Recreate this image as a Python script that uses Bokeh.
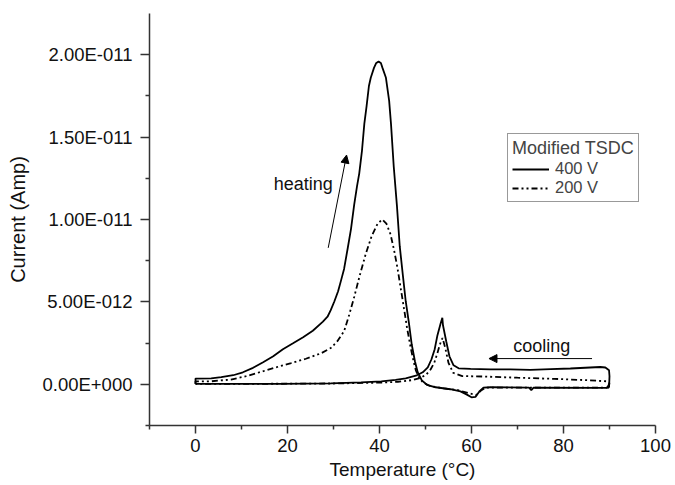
from bokeh.plotting import figure
from bokeh.models import Range1d, FixedTicker, Legend, LegendItem, Arrow, NormalHead, Label
from bokeh.embed import file_html
from bokeh.resources import INLINE

# Current values are in units of 1e-12 A
heat400_T = [0, 0, 3.4, 5.6, 8.2, 10.3, 12.5, 14.7, 16.9, 19.0, 21.2, 23.4, 25.5, 27.7, 28.7,
             29.4, 30.2, 31.0, 31.6, 32.3, 33.1, 33.8, 34.5, 35.1, 35.6, 36.2, 36.7, 37.2, 37.7,
             38.1, 38.8, 39.3, 39.8, 40.3, 40.65, 41.4, 42.1, 42.5, 43.1, 43.8, 44.4, 45.1, 45.7,
             46.4, 47.0, 47.7, 48.3, 49.2, 50.3, 52.2, 55.4, 57.6, 58.9, 60.0, 60.9, 61.7, 62.6,
             64.1, 72.5, 73.0, 73.5, 89.3, 89.9]
heat400_I = [0.03, 0.35, 0.36, 0.43, 0.55, 0.73, 1.0, 1.34, 1.70, 2.13, 2.49, 2.86, 3.25, 3.8, 4.1,
             4.5, 5.04, 5.65, 6.26, 7.0, 8.27, 9.42, 10.9, 12.0, 12.8, 14.2, 15.8, 16.9, 18.1,
             18.6, 19.2, 19.5, 19.58, 19.5, 19.2, 18.6, 17.2, 15.8, 13.2, 10.8, 8.38, 6.56, 5.04,
             3.71, 2.43, 1.40, 0.73, 0.24, -0.03, -0.18, -0.30, -0.43, -0.61, -0.79, -0.76, -0.43, -0.2,
             -0.18, -0.2, -0.35, -0.2, -0.22, -0.2]

cool400_T = [89.9, 90.0, 89.9, 89.1, 88.0, 85.8, 81.5, 77.2, 72.8, 68.4, 64.1, 59.8, 57.2, 56.1,
             55.2, 54.5, 53.8, 53.66, 53.3, 52.6, 52.0, 51.3, 50.5, 49.4, 47.9, 45.7, 43.5, 40.4,
             36.0, 29.4, 18.6, 0]
cool400_I = [-0.2, 0.49, 0.85, 1.02, 1.05, 1.02, 0.96, 0.92, 0.88, 0.91, 0.91, 0.93, 0.97, 1.15,
             1.70, 2.61, 3.58, 4.03, 3.71, 2.98, 2.13, 1.52, 1.03, 0.73, 0.52, 0.36, 0.27, 0.18,
             0.12, 0.06, 0.03, 0.03]

heat200_T = [0, 0, 3.4, 7.7, 11.0, 14.3, 17.5, 20.8, 24.0, 27.3, 29.4, 30.8, 32.3, 33.4, 34.5,
             35.7, 37.0, 38.3, 39.6, 40.6, 41.5, 42.4, 43.2, 43.9, 44.6, 45.3, 46.0, 46.8, 47.4,
             47.9, 48.6, 49.5, 51.0, 54.0, 57.0, 59.5, 61.0, 62.0, 63.0, 65.0, 75.0, 89.5]
heat200_I = [0.02, 0.18, 0.18, 0.29, 0.49, 0.76, 1.03, 1.29, 1.55, 1.88, 2.2, 2.6, 3.22, 4.2, 5.3,
             6.6, 7.9, 9.0, 9.75, 10.0, 9.75, 9.1, 8.1, 7.07, 5.85, 4.64, 3.4, 2.2, 1.4,
             0.85, 0.4, 0.1, -0.1, -0.25, -0.35, -0.55, -0.65, -0.4, -0.2, -0.2, -0.2, -0.2]

cool200_T = [89.5, 90.0, 89.5, 85.0, 78.0, 70.0, 63.0, 58.0, 56.0, 55.0, 54.3, 53.7, 53.1, 52.6,
             51.9, 51.1, 50.2, 49.0, 47.0, 44.0, 40.0, 30.0, 15.0, 0]
cool200_I = [-0.2, 0.05, 0.18, 0.25, 0.33, 0.4, 0.47, 0.5, 0.7, 1.3, 2.2, 2.81, 2.4, 1.9,
             1.3, 0.9, 0.6, 0.4, 0.25, 0.15, 0.1, 0.05, 0.03, 0.02]

y_ticks = [0, 5, 10, 15, 20]
y_tick_labels = ["0.00E+000", "5.00E-012", "1.00E-011", "1.50E-011", "2.00E-011"]
x_ticks = [0, 20, 40, 60, 80, 100]

FONT = "Liberation Sans"
FS = "18px"

p = figure(width=672, height=485, x_range=Range1d(-10, 100), y_range=Range1d(-2.5, 22.5),
           output_backend="svg", toolbar_location=None,
           min_border_left=149, min_border_right=17, min_border_top=13, min_border_bottom=60)
p.xgrid.visible = False
p.ygrid.visible = False
p.outline_line_color = None
p.background_fill_color = "white"

for ax in (p.xaxis[0], p.yaxis[0]):
    ax.axis_line_color = "#333333"
    ax.axis_line_width = 1.5
    ax.major_tick_line_color = "#333333"
    ax.minor_tick_line_color = "#333333"
    ax.major_tick_line_width = 1.5
    ax.minor_tick_line_width = 1.5
    ax.major_tick_in = 0
    ax.minor_tick_in = 0
    ax.major_label_text_font = FONT
    ax.major_label_text_font_size = "18.5px"
    ax.major_label_text_color = "#111111"
    ax.axis_label_text_font = FONT
    ax.axis_label_text_font_style = "normal"
    ax.axis_label_text_color = "#111111"

p.xaxis.ticker = FixedTicker(ticks=x_ticks, minor_ticks=[-10, 10, 30, 50, 70, 90])
p.yaxis.ticker = FixedTicker(ticks=y_ticks, minor_ticks=[-2.5, 2.5, 7.5, 12.5, 17.5])
p.yaxis.major_label_overrides = {t: s for t, s in zip(y_ticks, y_tick_labels)}
p.xaxis.major_tick_out = 8
p.xaxis.minor_tick_out = 4
p.yaxis.major_tick_out = 9
p.yaxis.minor_tick_out = 4
p.yaxis.major_label_standoff = 8
p.xaxis.major_label_standoff = 5
p.xaxis.axis_label = "Temperature (°C)"
p.yaxis.axis_label = "Current (Amp)"
p.xaxis.axis_label_text_font_size = "19px"
p.yaxis.axis_label_text_font_size = "20px"
p.xaxis.axis_label_standoff = 4
p.yaxis.axis_label_standoff = 10

DASH = "6 3 2 3 2 3"
r400 = p.line(heat400_T, heat400_I, line_color="black", line_width=1.8)
p.line(cool400_T, cool400_I, line_color="black", line_width=1.8)
r200 = p.line(heat200_T, heat200_I, line_color="black", line_width=1.8, line_dash=DASH)
p.line(cool200_T, cool200_I, line_color="black", line_width=1.8, line_dash=DASH)

legend = Legend(items=[LegendItem(label="400 V", renderers=[r400]),
                       LegendItem(label="200 V", renderers=[r200])],
                title="Modified TSDC", location=(358, 223))
legend.border_line_color = "#333333"
legend.border_line_width = 1.2
legend.padding = 4
legend.spacing = 0
legend.margin = 0
legend.label_standoff = 6
legend.glyph_width = 37
legend.glyph_height = 16
legend.label_height = 16
legend.label_text_font = FONT
legend.label_text_font_size = "16.5px"
legend.title_text_font = FONT
legend.title_text_font_size = "18px"
legend.title_text_font_style = "normal"
legend.title_standoff = 0
legend.background_fill_color = "white"
p.add_layout(legend, "center")

heat_arrow = [28.85, 8.28, 32.84, 13.91]
cool_arrow = [86.2, 1.56, 63.8, 1.56]
p.add_layout(Arrow(end=NormalHead(size=8, fill_color="black", line_color="black", line_width=1),
                   x_start=heat_arrow[0], y_start=heat_arrow[1], x_end=heat_arrow[2], y_end=heat_arrow[3],
                   line_width=1, line_color="black"))
p.add_layout(Arrow(end=NormalHead(size=8, fill_color="black", line_color="black", line_width=1),
                   x_start=cool_arrow[0], y_start=cool_arrow[1], x_end=cool_arrow[2], y_end=cool_arrow[3],
                   line_width=1, line_color="black"))
p.add_layout(Label(x=17.0, y=12.13, text="heating", text_baseline="middle", text_font=FONT,
                   text_font_size=FS, text_color="#111111"))
p.add_layout(Label(x=69.07, y=2.31, text="cooling", text_baseline="middle", text_font=FONT,
                   text_font_size=FS, text_color="#111111"))

open("out.html", "w").write(file_html(p, INLINE))
